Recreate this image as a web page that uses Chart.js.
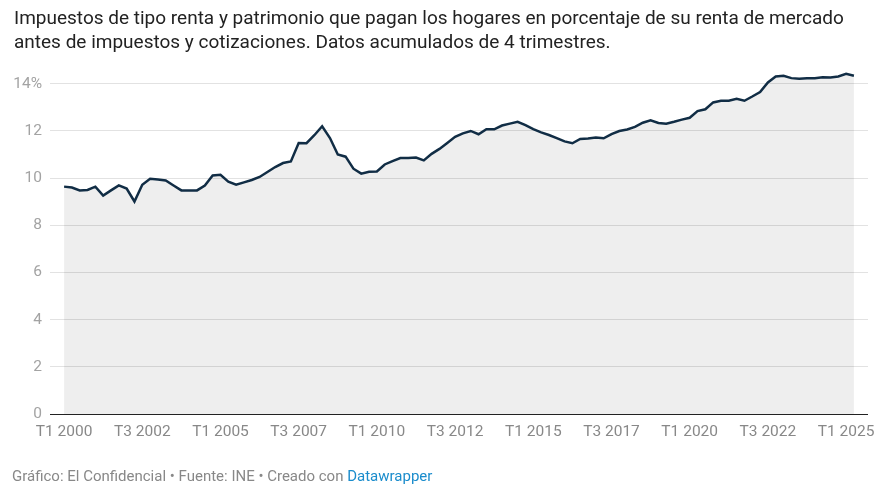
<!DOCTYPE html>
<html>
<head>
<meta charset="utf-8">
<script src="https://cdn.jsdelivr.net/npm/chart.js@4.4.1/dist/chart.umd.min.js"></script>
<style>
  body { margin: 0; background: #fff; font-family: Roboto, sans-serif; }
  #wrap { position: absolute; left: 0; top: 0; width: 889px; height: 496px; }
  #title { position: absolute; left: 14px; top: 6px; font-size: 19px; line-height: 24px; color: #222; z-index: 2; }
  #foot { position: absolute; left: 12px; top: 467px; font-size: 15px; color: #888; z-index: 2; }
  #foot span { color: #1a8ccc; }
</style>
</head>
<body>
<div id="title">Impuestos de tipo renta y patrimonio que pagan los hogares en porcentaje de su renta de mercado<br>antes de impuestos y cotizaciones. Datos acumulados de 4 trimestres.</div>
<div id="wrap"><canvas id="chart"></canvas></div>
<div id="foot">Gráfico: El Confidencial • Fuente: INE • Creado con <span>Datawrapper</span></div>
<script>
// % sobre renta de mercado, trimestral desde T1 2000 hasta T2 2025
var values = [
  9.64, 9.60, 9.48, 9.50, 9.64, 9.26, 9.48, 9.69, 9.56, 9.01,
  9.72, 9.97, 9.94, 9.90, 9.69, 9.48, 9.48, 9.48, 9.69, 10.11,
  10.14, 9.85, 9.72, 9.82, 9.92, 10.05, 10.26, 10.47, 10.64, 10.71,
  11.49, 11.48, 11.82, 12.20, 11.70, 11.00, 10.91, 10.40, 10.19, 10.27,
  10.28, 10.58, 10.72, 10.85, 10.85, 10.87, 10.75, 11.03, 11.24, 11.49,
  11.75, 11.90, 12.00, 11.86, 12.07, 12.07, 12.23, 12.31, 12.39, 12.25,
  12.08, 11.94, 11.83, 11.70, 11.56, 11.48, 11.66, 11.68, 11.72, 11.69,
  11.87, 12.00, 12.06, 12.17, 12.35, 12.45, 12.34, 12.31, 12.39, 12.48,
  12.56, 12.84, 12.92, 13.21, 13.28, 13.28, 13.36, 13.28, 13.46, 13.65,
  14.06, 14.31, 14.34, 14.24, 14.21, 14.23, 14.24, 14.28, 14.27, 14.31,
  14.42, 14.34
];
var xTickPos = [0, 10, 20, 30, 40, 50, 60, 70, 80, 90, 100];
var xTickLabels = ['T1 2000', 'T3 2002', 'T1 2005', 'T3 2007', 'T1 2010', 'T3 2012',
                   'T1 2015', 'T3 2017', 'T1 2020', 'T3 2022', 'T1 2025'];
var yTicks = [0, 2, 4, 6, 8, 10, 12, 14];

var points = [];
for (var i = 0; i < values.length; i++) {
  points.push({x: i, y: values[i]});
}

new Chart(document.getElementById('chart'), {
  type: 'line',
  data: {
    datasets: [{
      data: points,
      borderColor: '#112d45',
      borderWidth: 2.5,
      backgroundColor: 'rgba(0,0,0,0.066)',
      fill: 'origin',
      pointRadius: 0,
      tension: 0
    }]
  },
  options: {
    responsive: true,
    maintainAspectRatio: false,
    animation: false,
    layout: { padding: { top: 72, right: 21, bottom: 42, left: 0 } },
    plugins: { legend: { display: false }, tooltip: { enabled: false } },
    scales: {
      x: {
        type: 'linear',
        min: -1.8,
        max: 102.8,
        afterBuildTicks: function(s) { s.ticks = xTickPos.map(function(v){ return {value: v}; }); },
        afterFit: function(s) { s.height = 40; },
        grid: { display: false },
        border: { display: false },
        ticks: {
          autoSkip: false,
          maxRotation: 0,
          padding: 1,
          color: '#888',
          font: { family: 'Roboto', size: 15.5 },
          callback: function(v) { var k = xTickPos.indexOf(v); return k >= 0 ? xTickLabels[k] : ''; }
        }
      },
      y: {
        min: 0,
        max: 14.5,
        afterBuildTicks: function(s) { s.ticks = yTicks.map(function(v){ return {value: v}; }); },
        afterFit: function(s) { s.width = 50; },
        border: { display: false },
        grid: {
          drawTicks: false,
          lineWidth: 1,
          color: function(c) { return c.tick && c.tick.value === 0 ? '#222' : '#e2e2e2'; }
        },
        ticks: {
          padding: 8,
          color: '#a3a3a3',
          font: { family: 'Roboto', size: 15.5 },
          callback: function(v) { return v === 14 ? '14%' : v; }
        }
      }
    }
  }
});
</script>
</body>
</html>
